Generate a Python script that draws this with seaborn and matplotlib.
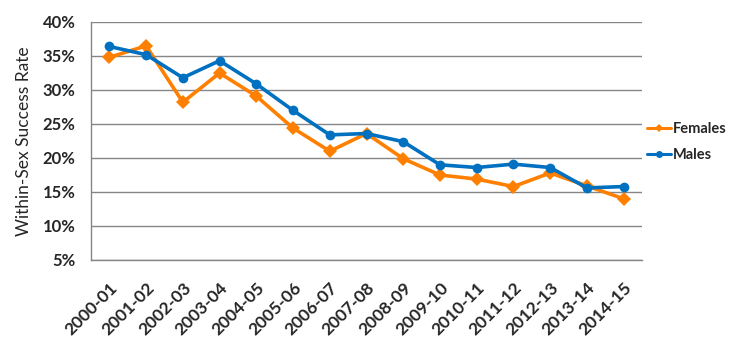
import matplotlib
matplotlib.use("Agg")
import matplotlib.pyplot as plt
import seaborn as sns
import pandas as pd
import numpy as np
from matplotlib.ticker import FuncFormatter, FixedLocator
from matplotlib.lines import Line2D

years = ["2000-01", "2001-02", "2002-03", "2003-04", "2004-05", "2005-06",
         "2006-07", "2007-08", "2008-09", "2009-10", "2010-11", "2011-12",
         "2012-13", "2013-14", "2014-15"]
females = [34.8, 36.5, 28.2, 32.5, 29.1, 24.4, 21.0, 23.6, 19.9, 17.5,
           16.9, 15.8, 17.8, 15.9, 14.0]
males = [36.4, 35.2, 31.8, 34.3, 30.9, 27.0, 23.4, 23.6, 22.4, 19.0,
         18.6, 19.1, 18.6, 15.6, 15.8]
y_ticks = [5, 10, 15, 20, 25, 30, 35, 40]

ORANGE = "#FF8000"
BLUE = "#0070C0"
GRID = "#868686"

sns.set_style("white")
plt.rcParams["font.family"] = ["Lato", "DejaVu Sans"]

df = pd.DataFrame({
    "pos": list(range(len(years))) * 2,
    "rate": females + males,
    "sex": ["Females"] * len(years) + ["Males"] * len(years),
})

fig = plt.figure(figsize=(7.4, 3.39), dpi=100)
ax = fig.add_axes([91 / 740, 1 - 260 / 339, (642 - 91) / 740, (260 - 22) / 339])

sns.lineplot(data=df, x="pos", y="rate", hue="sex", style="sex",
             palette={"Females": ORANGE, "Males": BLUE},
             markers={"Females": "D", "Males": "o"}, dashes=False,
             linewidth=2.6, markersize=7, markeredgewidth=0,
             ax=ax, legend=False)

ax.set_xlim(-0.5, len(years) - 0.5)
ax.set_ylim(5, 40)
ax.yaxis.set_major_locator(FixedLocator(y_ticks))
ax.yaxis.set_major_formatter(FuncFormatter(lambda v, _: f"{v:.0f}%"))
ax.grid(axis="y", color=GRID, linewidth=1.0)
ax.set_axisbelow(True)

# Category labels centred on each point, tick marks on the boundaries
ax.set_xticks(range(len(years)))
ax.set_xticklabels(years, rotation=45, ha="right", rotation_mode="anchor",
                   fontsize=12.5, fontweight="bold")
ax.tick_params(axis="x", which="major", length=0, pad=14)
ax.set_xticks(np.arange(-0.5, len(years), 1.0), minor=True)
ax.tick_params(axis="x", which="minor", length=5, color=GRID, width=1)
ax.tick_params(axis="y", length=7, color=GRID, width=1, labelsize=12, pad=4)
for lab in ax.get_yticklabels():
    lab.set_fontweight("bold")

for side in ["top", "right"]:
    ax.spines[side].set_visible(False)
for side in ["left", "bottom"]:
    ax.spines[side].set_color(GRID)
    ax.spines[side].set_linewidth(1.0)

ax.set_xlabel("")
ax.set_ylabel("Within-Sex Success Rate", fontsize=12.5, fontweight="normal",
              labelpad=8)

handles = [
    Line2D([], [], color=ORANGE, marker="D", markersize=4, linewidth=2.2,
           markeredgewidth=0, label="Females"),
    Line2D([], [], color=BLUE, marker="o", markersize=5, linewidth=2.2,
           markeredgewidth=0, label="Males"),
]
fig.legend(handles=handles, loc="center left",
           bbox_to_anchor=(647 / 740, 1 - 142 / 339),
           frameon=False, handlelength=1.65, labelspacing=0.8,
           handletextpad=0.15, borderpad=0, borderaxespad=0,
           prop={"weight": "bold", "size": 10.5})

fig.savefig("out.png", dpi=100)
